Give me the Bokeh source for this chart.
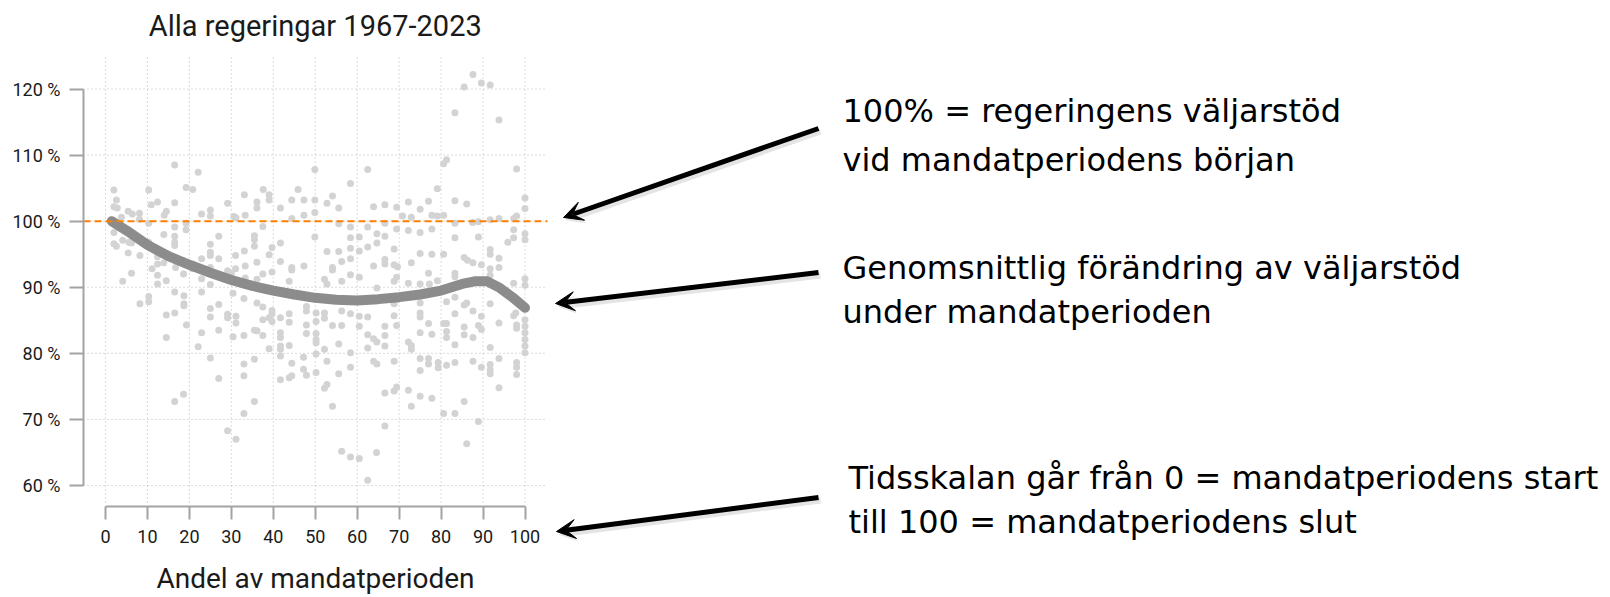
from bokeh.plotting import figure
from bokeh.models import Range1d, FixedTicker, Arrow, VeeHead, Label
from bokeh.embed import file_html
from bokeh.resources import INLINE

# ---------------- data ----------------
scatter_x = [
    16.5, 22.1, 2.0, 10.3, 19.2, 20.8, 2.6, 2.0, 2.8, 5.4, 6.4, 8.1, 8.1, 10.9, 12.4, 14.5, 14.0, 16.5, 22.9, 25.0,
    25.0, 29.1, 33.1, 30.6, 31.1, 3.8, 10.3, 16.5, 19.2, 19.2, 2.0, 2.0, 2.6, 4.1, 5.6, 6.2, 5.4, 8.2, 6.2, 4.1,
    12.4, 13.9, 16.5, 16.5, 16.5, 16.7, 14.5, 12.4, 12.4, 11.1, 12.4, 25.0, 25.0, 25.0, 27.0, 27.0, 22.9, 25.0, 22.9, 25.0,
    29.1, 30.0, 31.0, 31.0, 33.1, 18.6, 20.7, 18.6, 13.9, 14.5, 10.3,
    49.9, 62.5, 58.4, 37.6, 39.0, 39.0, 36.1, 36.1, 45.9, 44.4, 47.3, 41.7, 49.9, 52.8, 54.1, 55.6, 63.9, 66.6, 33.3, 44.4,
    47.3, 49.9, 37.5, 55.6, 58.4, 62.5, 66.6, 35.5, 35.5, 41.7, 49.9, 58.4, 60.5, 64.7, 66.6, 35.5, 39.7, 39.0, 52.8, 55.6,
    58.4, 60.5, 62.5, 64.7, 66.6, 66.6, 36.1, 41.7, 44.4, 44.4, 47.3, 54.1, 54.1, 56.3, 58.4, 63.9, 33.3, 33.3, 37.5, 39.7,
    36.1, 43.8, 52.2, 52.8, 56.3, 58.4, 60.5, 64.7,
    87.6, 85.5, 89.6, 91.7, 83.3, 93.8, 81.3, 80.6, 98.0, 79.1, 77.0, 72.2, 69.4, 75.0, 83.3, 86.1, 100, 100, 70.8, 72.9,
    77.8, 79.1, 80.6, 83.3, 87.5, 88.9, 91.7, 93.8, 97.3, 98.0, 69.4, 72.2, 75.0, 77.8, 83.3, 88.9, 97.3, 95.9, 97.3, 100,
    100, 68.8, 75.0, 77.8, 80.6, 91.7, 91.7, 93.8, 68.8, 69.6, 72.9, 85.5, 86.3, 87.6, 89.6, 91.7, 93.8, 77.0, 83.3, 83.3,
    69.4, 68.8, 72.2, 75.0, 77.2, 79.1, 91.7, 97.3, 100, 100,
    8.2, 10.3, 10.3, 16.5, 18.7, 18.7, 18.7, 14.5, 16.5, 19.3, 14.5, 22.9, 25.0, 25.0, 27.0, 22.9, 27.0, 22.1, 25.0, 27.0,
    18.6, 16.5, 29.1, 29.1, 31.1, 31.1, 30.4, 30.4, 33.0, 33.0, 33.0, 33.0, 33.0, 29.1, 31.1,
    36.1, 37.5, 39.7, 39.7, 39.0, 37.5, 39.7, 41.7, 43.8, 43.8, 35.5, 36.1, 37.5, 41.7, 41.7, 41.7, 41.7, 41.7, 39.0, 43.8,
    47.9, 47.9, 47.9, 47.9, 50.2, 50.2, 50.2, 50.2, 50.2, 50.2, 52.2, 52.2, 52.2, 54.1, 56.3, 56.3, 55.6, 58.4, 60.5, 60.5,
    62.5, 62.5, 63.9, 64.7, 62.5, 66.6, 66.6, 66.6, 35.5, 41.7, 43.8, 44.4, 44.4, 47.2, 47.2, 47.9, 50.2, 52.8, 55.6, 58.4,
    58.4, 63.9, 64.7, 52.8, 52.2, 35.5, 54.1, 66.6, 66.6, 56.3, 58.4, 60.5, 64.6, 62.5,
    68.8, 68.8, 69.4, 75.0, 75.0, 75.0, 75.0, 77.0, 77.8, 72.2, 72.9, 72.9, 80.6, 81.3, 81.3, 81.3, 81.3, 83.3, 83.3, 83.3,
    85.5, 85.5, 86.1, 85.5, 87.6, 87.6, 88.9, 89.6, 89.6, 91.7, 91.7, 93.8, 97.3, 97.8, 98.0, 98.0, 100, 100, 100, 100,
    100, 100, 68.8, 75.0, 75.0, 77.0, 77.0, 79.3, 79.3, 81.3, 83.3, 87.6, 89.6, 91.7, 91.7, 91.7, 93.8, 98.0, 98.0, 98.0,
    93.8, 68.8, 69.4, 72.2, 75.0, 77.8, 72.9, 85.5, 80.6, 83.3, 88.9, 86.1,
]
scatter_y = [
    108.5, 107.4, 104.7, 104.7, 105.1, 104.8, 103.2, 102.2, 102.0, 101.5, 101.1, 101.2, 100.3, 102.5, 102.9, 101.5, 100.9, 102.8, 101.1, 101.7,
    100.8, 102.7, 104.0, 100.7, 100.5, 100.6, 99.7, 99.1, 99.7, 98.7, 98.3, 96.6, 96.2, 97.1, 96.8, 96.7, 95.2, 94.8, 92.1, 90.9,
    94.6, 98.0, 97.7, 96.8, 96.3, 93.0, 91.0, 91.8, 90.5, 92.8, 93.5, 96.5, 95.3, 94.8, 97.7, 94.3, 94.3, 93.0, 91.3, 90.4,
    92.5, 92.0, 92.8, 94.8, 95.5, 92.0, 92.8, 94.0, 93.7, 95.1, 96.8,
    107.8, 107.8, 105.7, 104.8, 104.0, 103.2, 102.9, 102.0, 104.8, 103.2, 103.2, 102.0, 103.2, 102.7, 103.8, 102.0, 102.2, 102.5, 100.9, 100.4,
    100.9, 101.3, 99.2, 99.6, 99.1, 99.1, 99.7, 97.8, 97.2, 96.7, 97.6, 97.5, 97.6, 98.1, 97.7, 96.2, 96.0, 94.9, 95.4, 95.4,
    95.9, 95.5, 96.1, 96.7, 94.2, 93.5, 93.8, 93.9, 93.0, 92.6, 93.2, 93.0, 92.6, 93.9, 94.3, 93.2, 93.2, 91.4, 92.0, 92.3,
    91.2, 90.9, 91.2, 90.5, 90.9, 91.9, 91.5, 89.9,
    122.2, 120.3, 120.9, 120.6, 116.4, 115.3, 109.3, 108.7, 107.9, 104.9, 103.0, 102.9, 102.1, 101.8, 103.1, 102.6, 103.5, 101.9, 100.8, 100.6,
    100.9, 100.8, 100.9, 99.7, 99.8, 99.9, 100.2, 100.4, 100.4, 100.8, 98.8, 98.6, 98.3, 98.8, 97.5, 97.6, 98.7, 96.8, 97.5, 98.1,
    97.2, 95.8, 95.1, 95.0, 95.0, 95.7, 95.0, 94.4, 93.4, 93.1, 93.7, 94.5, 94.1, 93.7, 93.4, 92.8, 93.0, 92.1, 92.1, 91.6,
    91.5, 90.9, 90.6, 90.5, 90.5, 91.0, 91.8, 90.6, 91.3, 90.3,
    87.5, 88.6, 87.8, 89.3, 88.7, 87.5, 87.2, 85.8, 86.1, 84.3, 82.4, 89.3, 86.8, 85.5, 87.4, 83.1, 83.5, 81.0, 79.3, 76.2,
    73.8, 72.7, 85.9, 85.4, 85.6, 84.6, 82.5, 89.1, 88.3, 82.7, 78.4, 76.6, 70.9, 68.3, 67.0,
    87.6, 87.0, 86.5, 86.0, 85.4, 85.1, 84.8, 85.4, 86.0, 84.7, 83.5, 83.4, 82.7, 83.1, 82.4, 81.1, 80.6, 79.6, 80.7, 81.2,
    84.3, 83.0, 86.4, 87.1, 86.1, 84.8, 83.0, 82.1, 81.6, 79.9, 86.1, 85.3, 80.6, 84.2, 86.4, 84.2, 81.4, 86.0, 85.6, 84.1,
    85.5, 82.8, 82.2, 81.7, 80.8, 84.1, 82.7, 81.1, 79.1, 76.0, 76.3, 76.6, 78.5, 79.4, 77.6, 76.7, 77.1, 78.8, 76.9, 80.1,
    77.9, 78.8, 78.4, 75.3, 74.7, 72.7, 72.0, 74.0, 69.0, 65.2, 64.3, 64.1, 65.0, 60.8,
    87.5, 85.7, 84.2, 87.6, 86.1, 85.5, 83.1, 84.5, 82.9, 81.7, 81.2, 80.6, 84.5, 84.5, 83.3, 82.4, 87.8, 86.0, 88.5, 81.3,
    84.0, 82.8, 87.6, 87.3, 82.4, 86.4, 84.2, 85.6, 83.6, 87.5, 80.9, 84.6, 85.7, 86.1, 84.3, 83.8, 85.1, 84.1, 83.1, 82.1,
    81.1, 80.1, 78.8, 79.2, 77.4, 79.2, 78.4, 78.6, 77.8, 78.2, 78.6, 78.8, 77.9, 78.3, 77.5, 76.9, 79.2, 78.6, 77.9, 76.8,
    74.8, 74.3, 74.9, 74.4, 73.5, 73.2, 72.0, 72.7, 70.9, 70.9, 69.7, 66.3,
]

trend_x = [1.5, 5, 10, 15, 20, 25, 30, 35, 40, 45, 50, 55, 60, 65, 70, 75, 80, 85, 88, 91, 94, 97, 100]
trend_y = [100, 98.6, 96.4, 94.7, 93.4, 92.2, 91.1, 90.2, 89.5, 88.9, 88.4, 88.1, 88.0, 88.2, 88.5, 88.9, 89.5, 90.5,
           90.9, 90.9, 89.9, 88.5, 86.9]

x_ticks = [0, 10, 20, 30, 40, 50, 60, 70, 80, 90, 100]
y_ticks = [60, 70, 80, 90, 100, 110, 120]
y_tick_labels = ["60 %", "70 %", "80 %", "90 %", "100 %", "110 %", "120 %"]
reference_level = 100

chart_title = "Alla regeringar 1967-2023"
x_title = "Andel av mandatperioden"

note_lines = [
    "100% = regeringens väljarstöd",
    "vid mandatperiodens början",
    "Genomsnittlig förändring av väljarstöd",
    "under mandatperioden",
    "Tidsskalan går från 0 = mandatperiodens start",
    "till 100 = mandatperiodens slut",
]

# ---------------- layout constants ----------------
W, H = 1610, 597
FRAME_L = 83                      # the y axis sits in the left panel; the frame covers the rest
PX0, PX100 = 105.0, 524.5         # page x of x = 0 and x = 100
PY60, PY120 = 485.0, 88.5         # page y of 60 % and 120 %
sx = (PX100 - PX0) / 100.0
sy = (PY60 - PY120) / 60.0

def xdat(px):
    return (px - PX0) / sx

def ydat(py):
    return 60 + (PY60 - py) / sy

PLOT_RIGHT_PX, PLOT_TOP_PX, PLOT_BOTTOM_PX = 547, 55, 502
XAXIS_PX = 506

note_x = [842, 842, 842, 842, 848, 848]
note_y = [110, 159, 267, 311, 477, 521]
arrows = [((818, 128), (563, 217)), ((818, 272), (555, 303)), ((818, 497), (556, 531))]
title_y_px = 25

CHART_FONT = "Roboto"
NOTE_FONT = "DejaVu Sans"
AXIS_GREY = "#a3a3a3"
GRID_GREY = "#b8b8b8"
TEXT_DARK = "#1a1a1a"

# ---------------- figure ----------------
p = figure(width=W, height=H,
           x_range=Range1d(xdat(FRAME_L), xdat(W)), y_range=Range1d(ydat(H), ydat(0)),
           output_backend="svg", toolbar_location=None,
           min_border_left=FRAME_L, min_border_right=0, min_border_top=0, min_border_bottom=0)
p.title.visible = False
p.outline_line_color = None
p.background_fill_color = "white"
p.border_fill_color = "white"
p.xgrid.visible = False
p.ygrid.visible = False
# a page-pixel coordinate system for the free annotations
p.extra_x_ranges = {"px": Range1d(FRAME_L, W)}
p.extra_y_ranges = {"px": Range1d(H, 0)}

for ax in (p.xaxis[0], p.yaxis[0]):
    ax.axis_line_color = AXIS_GREY
    ax.axis_line_width = 2
    ax.major_tick_line_color = AXIS_GREY
    ax.major_tick_line_width = 2
    ax.major_tick_in = 0
    ax.minor_tick_line_color = None
    ax.major_label_text_font = CHART_FONT
    ax.major_label_text_font_size = "18px"
    ax.major_label_text_color = TEXT_DARK

xa = p.xaxis[0]
xa.ticker = FixedTicker(ticks=x_ticks)
xa.bounds = (0, 100)
xa.fixed_location = ydat(XAXIS_PX)
xa.major_tick_out = 13
xa.major_label_standoff = 10
xa.axis_label = x_title
xa.axis_label_text_font = CHART_FONT
xa.axis_label_text_font_size = "28px"
xa.axis_label_text_font_style = "normal"
xa.axis_label_text_color = TEXT_DARK
xa.axis_label_standoff = 16

ya = p.yaxis[0]
ya.ticker = FixedTicker(ticks=y_ticks)
ya.bounds = (60, 120)
ya.major_tick_out = 14
ya.major_label_standoff = 9
ya.major_label_overrides = {t: lab for t, lab in zip(y_ticks, y_tick_labels)}

# dotted grid, limited to the chart area
gx_left, gx_right = xdat(FRAME_L), xdat(PLOT_RIGHT_PX)
gy_bottom, gy_top = ydat(PLOT_BOTTOM_PX), ydat(PLOT_TOP_PX)
p.segment(x0=x_ticks, y0=[gy_bottom] * len(x_ticks), x1=x_ticks, y1=[gy_top] * len(x_ticks),
          line_color=GRID_GREY, line_dash="1 3", line_width=1)
p.segment(x0=[gx_left] * len(y_ticks), y0=y_ticks, x1=[gx_right] * len(y_ticks), y1=y_ticks,
          line_color=GRID_GREY, line_dash="1 3", line_width=1)

p.scatter(scatter_x, scatter_y, size=7, color="#d3d3d3", line_color=None)
p.line(trend_x, trend_y, line_width=10, color="#8c8c8c", line_cap="round", line_join="round")
p.segment(x0=[gx_left], y0=[reference_level], x1=[gx_right], y1=[reference_level],
          line_color="#ff8000", line_dash="7 4", line_width=2)

p.add_layout(Label(x=50, y=ydat(title_y_px), text=chart_title, text_font=CHART_FONT,
                   text_font_size="29px", text_color=TEXT_DARK, text_align="center",
                   text_baseline="alphabetic"))

# ---------------- annotations ----------------
for (x0, y0), (x1, y1) in arrows:
    p.add_layout(Arrow(x_start=x0 + 2, y_start=y0 + 3, x_end=x1 + 2, y_end=y1 + 3,
                       x_range_name="px", y_range_name="px",
                       line_color="#c4c4c4", line_alpha=0.45, line_width=6,
                       end=VeeHead(size=19, fill_color="#c4c4c4", fill_alpha=0.45, line_color=None)))
    p.add_layout(Arrow(x_start=x0, y_start=y0, x_end=x1, y_end=y1,
                       x_range_name="px", y_range_name="px",
                       line_color="black", line_width=5,
                       end=VeeHead(size=19, fill_color="black", line_color="black", line_width=1)))

for tx, ty, txt in zip(note_x, note_y, note_lines):
    p.add_layout(Label(x=tx, y=ty, x_range_name="px", y_range_name="px", text=txt,
                       text_font=NOTE_FONT, text_font_size="32px", text_color="black",
                       text_baseline="alphabetic", text_align="left"))

open("out.html", "w").write(file_html(p, INLINE))
